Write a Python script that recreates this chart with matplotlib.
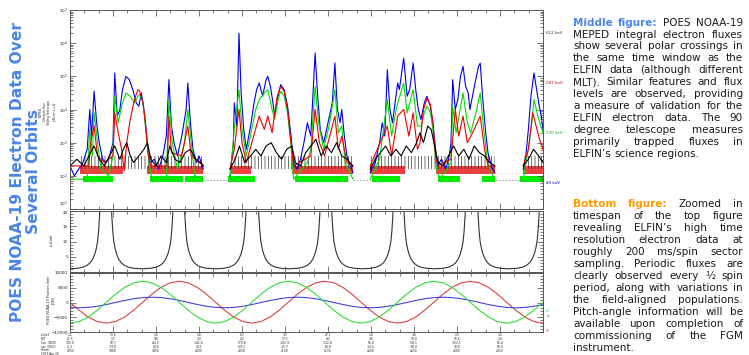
import numpy as np
import matplotlib.pyplot as plt
from matplotlib.ticker import FixedLocator, MultipleLocator, LogLocator, NullFormatter

W, H = 749, 355
plt.rcParams["hatch.linewidth"] = 0.45

# ---------------- top panel: MEPED fluxes, (hour UT, log10 flux); None = data gap
flux_40kev = [
    (18.50, 2.3), (18.55, 2.0), (18.60, 2.2), (18.65, 2.4), (18.70, 2.8), (18.73, 4.0), (18.75, 3.2),
    (18.78, 4.55), (18.81, 3.6), (18.84, 3.0), (18.88, 2.5), (18.92, 2.4), (18.96, 2.6), (19.00, 3.0),
    (19.02, 5.1), (19.05, 3.8), (19.08, 4.0), (19.11, 4.6), (19.15, 5.0), (19.19, 4.9), (19.23, 4.6),
    (19.27, 4.2), (19.30, 4.1), (19.33, 4.5), (19.37, 3.8), (19.40, 3.0), (19.43, 2.4), (19.48, 2.5),
    (19.53, 2.2), (19.58, 2.6), (19.62, 3.2), (19.65, 4.9), (19.68, 3.5), (19.71, 3.0), (19.75, 2.6),
    (19.80, 3.2), (19.85, 4.0), (19.87, 4.8), (19.90, 3.6), (19.93, 2.8), (19.97, 2.4), (20.00, 2.6),
    (20.05, 2.2), None,
    (20.36, 2.0), (20.40, 3.0), (20.41, 4.2), (20.44, 3.5), (20.465, 6.3), (20.49, 4.5), (20.52, 3.4),
    (20.55, 2.8), (20.60, 3.5), (20.64, 4.2), (20.67, 4.6), (20.70, 4.8), (20.74, 4.4), (20.78, 4.9),
    (20.80, 5.0), (20.83, 4.7), (20.86, 4.2), (20.88, 3.8), (20.91, 4.3), (20.95, 4.75), (20.99, 4.6),
    (21.03, 4.1), (21.07, 3.2), (21.10, 2.4), (21.14, 2.2), (21.18, 2.5), (21.22, 3.0), (21.26, 3.6),
    (21.30, 3.2), (21.35, 5.7), (21.38, 4.4), (21.41, 3.4), (21.45, 3.0), (21.50, 3.6), (21.55, 4.2),
    (21.58, 5.4), (21.61, 4.0), (21.64, 3.6), (21.66, 4.0), (21.69, 3.2), (21.72, 2.6), (21.76, 2.3),
    (21.79, 2.1), None,
    (21.99, 2.1), (22.05, 2.4), (22.10, 3.0), (22.13, 3.6), (22.16, 3.2), (22.19, 5.2), (22.22, 4.0),
    (22.25, 3.6), (22.28, 4.2), (22.31, 4.8), (22.33, 4.6), (22.38, 5.55), (22.42, 4.4), (22.45, 4.6),
    (22.49, 5.4), (22.52, 4.6), (22.55, 4.0), (22.58, 3.7), (22.62, 4.2), (22.65, 4.4), (22.69, 4.1),
    (22.72, 3.6), (22.75, 2.8), (22.77, 2.3), (22.82, 2.5), (22.87, 2.2), (22.91, 2.6), (22.93, 3.0),
    (22.95, 4.9), (22.98, 4.0), (23.01, 4.3), (23.04, 5.0), (23.07, 5.3), (23.10, 4.7), (23.13, 4.5),
    (23.15, 4.0), (23.18, 4.4), (23.21, 4.8), (23.25, 5.3), (23.27, 5.4), (23.30, 4.3), (23.33, 3.4),
    (23.36, 2.7), (23.40, 2.3), (23.44, 2.1), None,
    (23.77, 2.2), (23.80, 2.6), (23.83, 3.4), (23.86, 4.4), (23.895, 5.1), (23.92, 4.7), (23.95, 4.2),
    (23.98, 3.8), (24.00, 3.4),
]
flux_130kev = [
    (18.50, 1.9), (18.70, 1.9), (18.73, 3.4), (18.76, 2.6), (18.78, 3.9), (18.82, 3.0), (18.86, 2.2),
    (18.95, 2.0), (19.00, 2.6), (19.02, 4.4), (19.06, 3.6), (19.10, 4.1), (19.15, 4.5), (19.20, 4.4),
    (19.25, 4.2), (19.29, 4.4), (19.31, 4.45), (19.35, 4.2), (19.38, 3.4), (19.42, 2.4), (19.45, 1.9),
    (19.62, 1.9), (19.65, 4.3), (19.69, 3.0), (19.75, 2.2), (19.83, 3.0), (19.87, 4.0), (19.91, 3.0),
    (19.95, 2.0), (20.05, 1.9), None,
    (20.36, 1.9), (20.41, 3.4), (20.465, 4.6), (20.50, 3.4), (20.55, 2.6), (20.66, 4.0), (20.70, 4.3),
    (20.76, 4.5), (20.80, 4.6), (20.85, 4.0), (20.88, 3.7), (20.92, 4.3), (20.95, 4.55), (20.99, 4.4),
    (21.03, 3.9), (21.07, 2.9), (21.10, 1.9), (21.26, 2.4), (21.30, 2.8), (21.35, 4.7), (21.39, 3.6),
    (21.45, 2.8), (21.52, 3.6), (21.58, 4.6), (21.62, 3.3), (21.66, 3.5), (21.70, 2.4), (21.79, 1.9), None,
    (21.99, 1.9), (22.10, 2.5), (22.19, 4.3), (22.24, 3.2), (22.30, 4.1), (22.38, 4.8), (22.42, 3.9),
    (22.49, 4.6), (22.54, 3.5), (22.58, 3.5), (22.62, 3.9), (22.65, 4.1), (22.69, 3.9), (22.72, 3.4),
    (22.76, 2.2), (22.80, 1.9), (22.93, 2.4), (22.95, 4.1), (22.99, 3.3), (23.07, 4.5), (23.12, 3.6),
    (23.16, 3.3), (23.22, 3.9), (23.27, 4.5), (23.31, 3.4), (23.36, 2.3), (23.44, 1.9), None,
    (23.77, 1.9), (23.83, 2.8), (23.87, 3.6), (23.895, 4.3), (23.94, 3.8), (24.00, 3.3),
]
flux_287kev = [
    (18.50, 2.3), (18.72, 2.3), (18.74, 3.0), (18.78, 3.5), (18.82, 2.6), (18.90, 2.4), (19.00, 2.6),
    (19.02, 3.9), (19.06, 3.3), (19.10, 2.8), (19.13, 2.15), (19.16, 3.0), (19.20, 3.7), (19.25, 4.3),
    (19.29, 4.6), (19.31, 4.55), (19.35, 4.2), (19.38, 3.5), (19.41, 2.6), (19.44, 2.3), (19.63, 2.3),
    (19.65, 3.8), (19.68, 2.7), (19.80, 2.6), (19.87, 3.5), (19.91, 2.6), (20.05, 2.3), None,
    (20.36, 2.2), (20.41, 2.8), (20.465, 4.0), (20.50, 3.0), (20.55, 2.4), (20.70, 3.8), (20.76, 3.4),
    (20.80, 3.8), (20.85, 3.3), (20.87, 3.7), (20.91, 4.4), (20.95, 4.7), (20.99, 4.55), (21.03, 4.0),
    (21.07, 3.0), (21.10, 2.3), (21.30, 2.6), (21.35, 4.0), (21.40, 3.0), (21.46, 2.6), (21.58, 3.8),
    (21.62, 2.8), (21.66, 3.2), (21.72, 2.4), (21.79, 2.3), None,
    (21.99, 2.3), (22.19, 3.5), (22.24, 2.6), (22.31, 3.8), (22.38, 4.0), (22.44, 3.2), (22.49, 3.9),
    (22.54, 2.8), (22.57, 3.0), (22.61, 4.0), (22.65, 4.33), (22.69, 4.15), (22.72, 3.6), (22.75, 2.6),
    (22.78, 2.3), (22.93, 2.5), (22.98, 4.0), (23.02, 3.2), (23.07, 3.8), (23.12, 3.0), (23.20, 3.4),
    (23.27, 3.8), (23.32, 2.8), (23.36, 2.3), (23.44, 2.3), None,
    (23.77, 2.3), (23.83, 2.8), (23.88, 3.9), (23.92, 3.5), (23.96, 3.1), (24.00, 2.8),
]
flux_612kev = [
    (18.50, 2.3), (18.58, 2.5), (18.66, 2.3), (18.72, 2.6), (18.78, 2.9), (18.84, 2.5), (18.90, 2.3),
    (18.96, 2.6), (19.02, 2.9), (19.08, 2.5), (19.12, 2.8), (19.16, 3.0), (19.20, 2.6), (19.24, 2.4),
    (19.30, 2.6), (19.36, 2.8), (19.40, 3.0), (19.44, 2.5), (19.50, 2.3), (19.56, 2.6), (19.62, 2.4),
    (19.66, 2.9), (19.72, 2.5), (19.78, 2.4), (19.84, 2.7), (19.90, 2.8), (19.96, 2.5), (20.02, 2.4),
    (20.05, 2.3), None,
    (20.36, 2.2), (20.42, 2.5), (20.47, 2.9), (20.53, 2.4), (20.60, 2.6), (20.66, 2.8), (20.72, 2.6),
    (20.78, 2.9), (20.84, 3.0), (20.90, 2.7), (20.96, 2.5), (21.02, 2.8), (21.08, 2.9), (21.12, 2.4),
    (21.18, 2.3), (21.24, 2.7), (21.30, 2.9), (21.36, 3.1), (21.42, 2.6), (21.48, 2.9), (21.54, 2.7),
    (21.60, 3.0), (21.66, 2.6), (21.72, 2.5), (21.79, 2.3), None,
    (21.99, 2.2), (22.05, 2.5), (22.11, 2.7), (22.17, 2.9), (22.23, 2.6), (22.29, 2.8), (22.35, 2.6),
    (22.41, 2.9), (22.47, 2.7), (22.53, 3.0), (22.57, 3.3), (22.61, 3.0), (22.66, 3.5), (22.70, 3.4),
    (22.74, 2.9), (22.78, 2.4), (22.84, 2.3), (22.90, 2.6), (22.96, 2.9), (23.02, 2.6), (23.08, 2.8),
    (23.14, 2.5), (23.20, 2.9), (23.26, 2.7), (23.32, 2.6), (23.38, 2.4), (23.44, 2.3), None,
    (23.77, 2.3), (23.83, 2.5), (23.89, 2.8), (23.95, 2.6), (24.00, 2.4),
]
# background-count bands (hour ranges)
green_floor = [(18.65, 19.00), (19.43, 19.81), (19.84, 20.05), (20.34, 20.65), (21.12, 21.73),
               (22.01, 22.34), (22.78, 23.03), (23.29, 23.44), (23.73, 24.00)]
red_floor = [(18.62, 19.12), (19.40, 20.05), (20.36, 20.60), (21.08, 21.79), (21.99, 22.40),
             (22.76, 23.44), (23.77, 24.00)]
black_floor = [(18.62, 20.05), (20.36, 21.79), (21.99, 23.44), (23.77, 24.00)]
gap_floor = [(20.05, 20.36), (21.79, 21.99), (23.44, 23.77)]

# ---------------- middle panel: L-shell arcs
arc_centers = [18.49, 19.34, 20.19, 21.05, 21.90, 22.74, 23.60]
arc_dt = [0, 0.093, 0.163, 0.209, 0.244, 0.273, 0.297, 0.314, 0.331, 0.343, 0.355, 0.366]
arc_L = [1.05, 1.2, 1.6, 2.2, 3.0, 4.2, 5.8, 7.5, 10, 13.5, 19, 30]

# ---------------- bottom panel: GEI position (km)
pos_x = [100, -2620, -4920, -6460, -7000, -6460, -4920, -2620, 100, 2820, 5120, 6660, 7200, 6660, 5120, 2820,
         100, -2620, -4920, -6460, -7000, -6460, -4920, -2620, 100, 2820, 5120, 6660, 7200, 6660, 5120, 2820,
         100, -2620, -4920, -6460, -7000, -6460, -4920, -2620, 100, 2820, 5120, 6660, 7200, 6660, 5120, 2820,
         100, -2620, -4920, -6460, -7000]
pos_y = [-1660, -1800, -1660, -1270, -690, 0, 690, 1270, 1660, 1800, 1660, 1270, 690, 0, -690, -1270,
         -1660, -1800, -1660, -1270, -690, 0, 690, 1270, 1660, 1800, 1660, 1270, 690, 0, -690, -1270,
         -1660, -1800, -1660, -1270, -690, 0, 690, 1270, 1660, 1800, 1660, 1270, 690, 0, -690, -1270,
         -1660, -1800, -1660, -1270, -690]
pos_z = [-7000, -6460, -4920, -2620, 100, 2820, 5120, 6660, 7200, 6660, 5120, 2820, 100, -2620, -4920, -6460,
         -7000, -6460, -4920, -2620, 100, 2820, 5120, 6660, 7200, 6660, 5120, 2820, 100, -2620, -4920, -6460,
         -7000, -6460, -4920, -2620, 100, 2820, 5120, 6660, 7200, 6660, 5120, 2820, 100, -2620, -4920, -6460,
         -7000, -6460, -4920, -2620, 100]
pos_t = np.linspace(18.5, 24.0, len(pos_x))

tick_hours = [18.5, 19.0, 19.5, 20.0, 20.5, 21.0, 21.5, 22.0, 22.5, 23.0, 23.5, 24.0]
tick_labels = [
    "1.1\n21.5\n132.9\n-5.2\n1830", "13.6\n1.7\n92.7\n-79.8\n1900", "1.6\n9.6\n-44.5\n24.8\n1930",
    "1.8\n3.4\n-141.6\n44.1\n2000", "6.7\n4.2\n170.8\n-69.3\n2030", "3.3\n17.5\n-102.9\n-15.7\n2100",
    "27.1\n8.2\n-132.8\n86.8\n2130", "1.4\n4.6\n55.8\n-14.4\n2200", "3.6\n18.0\n-58.1\n-38.4\n2230",
    "2.2\n15.6\n-152.1\n38.8\n2300", "1.2\n2.4\n86.4\n10.4\n2330", "",
]

middle_text = [
    "Middle figure: POES NOAA-19",
    "MEPED integral electron fluxes",
    "show several polar crossings in",
    "the same time window as the",
    "ELFIN data (although different",
    "MLT). Similar features and flux",
    "levels are observed, providing",
    "a measure of validation for the",
    "ELFIN electron data. The 90",
    "degree telescope measures",
    "primarily trapped fluxes in",
    "ELFIN\u2019s science regions.",
]
bottom_text = [
    "Bottom figure: Zoomed in",
    "timespan of the top figure",
    "revealing ELFIN\u2019s high time",
    "resolution electron data at",
    "roughly 200 ms/spin sector",
    "sampling. Periodic fluxes are",
    "clearly observed every \u00bd spin",
    "period, along with variations in",
    "the field-aligned populations.",
    "Pitch-angle information will be",
    "available upon completion of",
    "commissioning of the FGM",
    "instrument.",
]


def unpack(pairs):
    t, v = [], []
    for p in pairs:
        if p is None:
            t.append(np.nan)
            v.append(np.nan)
        else:
            t.append(p[0])
            v.append(10 ** p[1])
    return t, v


fig = plt.figure(figsize=(W / 100, H / 100), dpi=100)


def px_axes(x0, y0, x1, y1):
    return fig.add_axes([x0 / W, 1 - y1 / H, (x1 - x0) / W, (y1 - y0) / H])


ax1 = px_axes(70, 10, 543, 209)
ax2 = px_axes(70, 211, 543, 272)
ax3 = px_axes(70, 273, 543, 332)

for ax in (ax1, ax2, ax3):
    ax.set_xlim(18.5, 24.0)
    ax.xaxis.set_major_locator(FixedLocator(tick_hours))
    ax.xaxis.set_minor_locator(MultipleLocator(1 / 6))
    ax.tick_params(which="both", direction="in", top=True, right=True, color="#444444",
                   labelcolor="#222222", labelsize=3, width=0.5, pad=1.5)
    ax.tick_params(which="major", length=4.5)
    ax.tick_params(which="minor", length=2.2)
    for s in ax.spines.values():
        s.set_color("#555555")
        s.set_linewidth(0.7)

# top panel
ax1.set_yscale("log")
ax1.set_ylim(1e1, 1e7)
ax1.yaxis.set_major_locator(FixedLocator([10.0 ** k for k in range(1, 8)]))
ax1.yaxis.set_minor_locator(LogLocator(base=10, subs=range(2, 10), numticks=20))
ax1.yaxis.set_minor_formatter(NullFormatter())
ax1.set_yticklabels(["$10^{%d}$" % k for k in range(1, 8)])
ax1.set_xticklabels([])
ax1.get_yticklabels()[0].set_va("bottom")

for a, b in green_floor:
    ax1.fill_between([a, b], 10 ** 1.8, 10 ** 2.0, color="#00ee00", lw=0)
for a, b in red_floor:
    ax1.fill_between([a, b], 10 ** 2.05, 10 ** 2.3, color="#ee0000", alpha=0.75, lw=0)
for a, b in black_floor:
    ax1.fill_between([a, b], 10 ** 2.2, 10 ** 2.6, facecolor="none", edgecolor="#222222",
                     hatch="|||||", lw=0)
for a, b in gap_floor:
    ax1.plot([a, b], [10 ** 1.87, 10 ** 1.87], ls=(0, (2, 2)), color="#9999aa", lw=0.6)
    ax1.plot([a, b], [10 ** 2.1, 10 ** 2.1], ls=(0, (1, 3)), color="#bbbbbb", lw=0.6)

for pairs, col in [(flux_40kev, "#0000ee"), (flux_130kev, "#00dd00"),
                   (flux_287kev, "#ee0000"), (flux_612kev, "#000000")]:
    t, v = unpack(pairs)
    ax1.plot(t, v, color=col, lw=0.8)

for txt, y, col in [("612 keV", 33, "#333333"), ("287 keV", 83, "#dd0000"),
                    ("130 keV", 133, "#00bb00"), ("40 keV", 183, "#0000cc")]:
    fig.text(546 / W, 1 - y / H, txt, fontsize=3, color=col, va="center", ha="left")

# middle panel
ax2.set_ylim(0, 20)
ax2.yaxis.set_major_locator(FixedLocator([5, 10, 15, 20]))
ax2.yaxis.set_minor_locator(MultipleLocator(1))
ax2.set_xticklabels([])
ax2.get_yticklabels()[-1].set_va("top")
for c in arc_centers:
    t = [c - d for d in arc_dt[::-1]] + [c + d for d in arc_dt[1:]]
    L = arc_L[::-1] + arc_L[1:]
    ax2.plot(t, L, color="#333333", lw=0.8)

# bottom panel
ax3.set_ylim(-10000, 10000)
ax3.yaxis.set_major_locator(FixedLocator([-10000, -5000, 0, 5000, 10000]))
ax3.yaxis.set_minor_locator(MultipleLocator(1000))
ax3.plot(pos_t, pos_x, color="#dd4444", lw=0.8)
ax3.plot(pos_t, pos_y, color="#4444dd", lw=0.8)
ax3.plot(pos_t, pos_z, color="#33dd33", lw=0.8)
ax3.set_xticklabels(tick_labels, fontsize=2.2, linespacing=0.95)
ax3.tick_params(axis="x", pad=1.0)
for txt, y, col in [("Z", 311, "#22bb22"), ("Y", 317, "#3333cc"), ("X", 331, "#cc2222")]:
    fig.text(546 / W, 1 - y / H, txt, fontsize=3, color=col, va="center", ha="left")

fig.text(41 / W, 1 - 333 / H, "L-shell\nMLT\nLon. (GEO)\nLat. (GEO)\nhhmm\n2019 Apr 30",
         fontsize=2.1, linespacing=0.95, va="top", ha="left", color="#222222")

# axis titles
fig.text(49 / W, 1 - 112 / H, "MEPED\nElectron flux\n90deg Telescope\n[#/cm$^2$-s-sr]",
         fontsize=2.2, rotation=90, ha="center", va="center", linespacing=1.0, color="#222222")
fig.text(52 / W, 1 - 240 / H, "L-shell", fontsize=2.8, rotation=90, ha="center", va="center",
         color="#222222")
fig.text(51 / W, 1 - 300 / H, "POES NOAA-19 Position (km)\n[GEI]", fontsize=2.4, rotation=90,
         ha="center", va="center", linespacing=1.0, color="#222222")

# left slide title
fig.text(25.5 / W, 1 - 172 / H, "POES NOAA-19 Electron Data Over\nSeveral Orbits", fontsize=11.2,
         fontweight="bold", color="#4a86e8", rotation=90, ha="center", va="center", linespacing=1.0)

# right-hand justified paragraphs
renderer = fig.canvas.get_renderer()
TEXT_SIZE = 7.45


def put_paragraph(lines, head_words, head_color, y_first, dy, x0=573, x1=743):
    space = 0.318 * TEXT_SIZE * 100 / 72
    for i, line in enumerate(lines):
        words = line.split()
        y = 1 - (y_first + i * dy + 3.6) / H
        texts = []
        for j, w in enumerate(words):
            if i == 0 and j < head_words:
                kw = dict(color=head_color, fontweight="bold")
            else:
                kw = dict(color="#1a1a1a")
            texts.append(fig.text(0, y, w, fontsize=TEXT_SIZE, va="baseline", ha="left", **kw))
        widths = [t.get_window_extent(renderer=renderer).width for t in texts]
        if i == len(lines) - 1 or len(words) == 1:
            gap = space
        else:
            gap = max((x1 - x0 - sum(widths)) / (len(words) - 1), 0.6 * space)
        x = x0
        for t, w in zip(texts, widths):
            t.set_x(x / W)
            x += w + gap


put_paragraph(middle_text, 2, "#4a86e8", 22, 11.9)
put_paragraph(bottom_text, 2, "#ff9900", 203, 12.0)

fig.savefig("out.png", dpi=100)
